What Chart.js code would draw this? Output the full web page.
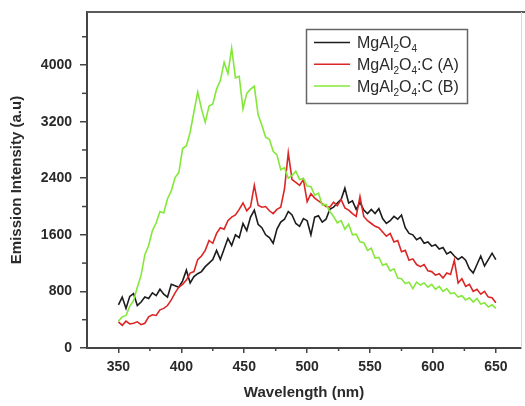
<!DOCTYPE html>
<html>
<head>
<meta charset="utf-8">
<title>Emission spectra</title>
<script src="https://cdn.jsdelivr.net/npm/chart.js@4.4.0/dist/chart.umd.min.js"></script>
<style>
  html, body { margin: 0; padding: 0; background: #fff; }
  #wrap { width: 525px; height: 406px; }
</style>
</head>
<body>
<div id="wrap"><canvas id="emission-chart" width="525" height="406"></canvas></div>
<script>
// Wavelength samples (nm), every 3 nm
const wavelengths = [
  350, 353, 356, 359, 362, 365, 368, 371, 374, 377,
  380, 383, 386, 389, 392, 395, 398, 401, 404, 407,
  410, 413, 416, 419, 422, 425, 428, 431, 434, 437,
  440, 443, 446, 449, 452, 455, 458, 461, 464, 467,
  470, 473, 476, 479, 482, 485, 488, 491, 494, 497,
  500, 503, 506, 509, 512, 515, 518, 521, 524, 527,
  530, 533, 536, 539, 542, 545, 548, 551, 554, 557,
  560, 563, 566, 569, 572, 575, 578, 581, 584, 587,
  590, 593, 596, 599, 602, 605, 608, 611, 614, 617,
  620, 623, 626, 629, 632, 635, 638, 641, 644, 647,
  650
];

// MgAl2O4 (black)
const mgal2o4 = [
  610, 720, 560, 730, 770, 600, 650, 720, 700, 780,
  740, 830, 760, 720, 900, 880, 860, 950, 1100, 920,
  1010, 1050, 1080, 1150, 1200, 1250, 1380, 1250, 1400, 1550,
  1450, 1600, 1560, 1760, 1660, 1850, 1950, 1750, 1700, 1600,
  1560, 1480, 1680, 1780, 1820, 1930, 1880, 1760, 1720, 1830,
  1800, 1600, 1850, 1870, 1780, 1820, 1960, 1990, 2050, 2100,
  2260, 2050, 2080, 1960, 2060, 1950, 1900, 1960, 1900, 1970,
  1830, 1760, 1800, 1860, 1820, 1880, 1700, 1620, 1600, 1530,
  1560, 1480, 1500, 1440, 1460, 1400, 1420, 1330, 1360, 1300,
  1250, 1290, 1240, 1120, 1060, 1180, 1300, 1160, 1250, 1340,
  1250
];

// MgAl2O4:C (A) (red)
const mgal2o4CA = [
  370, 320, 380, 340, 350, 370, 330, 350, 440, 470,
  460, 540, 560, 600, 680, 780, 860, 900, 960, 1060,
  1080, 1250, 1300, 1380, 1520, 1480, 1620, 1700, 1680, 1800,
  1850, 1880, 1960, 2050, 1940, 2000, 2300, 2020, 1990, 2000,
  1940, 1900, 1960, 1990, 2250, 2760, 2380, 2340, 2300, 2380,
  2070, 2180, 2120, 2080, 2040, 2000, 1990, 2060, 2010, 2100,
  1980, 1950, 1900, 1860, 2140, 1860, 1800, 1760, 1720, 1700,
  1640, 1580, 1620, 1500, 1520, 1360, 1380, 1240, 1260, 1180,
  1150, 1180, 1090, 1080, 1030, 1050, 990, 1060, 1040, 1240,
  920, 980, 870, 900, 800, 830, 760, 800, 720, 710,
  640
];

// MgAl2O4:C (B) (green)
const mgal2o4CB = [
  380, 440, 460, 590, 670, 860, 1030, 1320, 1450, 1660,
  1770, 1930, 1910, 2110, 2220, 2410, 2480, 2820, 2860, 3050,
  3340, 3620, 3380, 3190, 3420, 3450, 3660, 3780, 4040, 3880,
  4240, 3820, 3840, 3380, 3600, 3660, 3700, 3300, 3150, 2980,
  2950, 2780, 2730, 2520, 2550, 2400, 2440, 2500, 2380, 2400,
  2290, 2280, 2160, 2190, 2020, 2030, 1930, 1860, 1770, 1800,
  1680, 1750, 1600, 1610, 1500, 1490, 1380, 1410, 1270, 1280,
  1170, 1190, 1090, 1120, 990, 980, 910, 930, 840, 930,
  890, 920, 860, 900, 830, 870, 800, 840, 770, 780,
  720, 740, 680, 710, 650, 700, 620, 640, 580, 610,
  560
];

const xTicks = [350, 400, 450, 500, 550, 600, 650];
const xMinorTicks = [375, 425, 475, 525, 575, 625];
const yTicks = [0, 800, 1600, 2400, 3200, 4000];
const yMinorTicks = [400, 1200, 2000, 2800, 3600, 4400];

// Legend text pieces: [text, isSubscript]
const legendItems = [
  { color: "#1c1c1c", parts: [["MgAl", false], ["2", true], ["O", false], ["4", true]] },
  { color: "#dc2626", parts: [["MgAl", false], ["2", true], ["O", false], ["4", true], [":C (A)", false]] },
  { color: "#84e83a", parts: [["MgAl", false], ["2", true], ["O", false], ["4", true], [":C (B)", false]] }
];

const FONT = "'Liberation Sans', Arial, sans-serif";
const TEXT_COLOR = "#2a2a2a";
const AXIS_COLOR = "#444";

function toPoints(values) {
  return wavelengths.map((w, i) => ({ x: w, y: values[i] }));
}

// Minor ticks, top/right frame and the boxed legend
const framePlugin = {
  id: "frameAndLegend",
  afterDraw(chart) {
    const ctx = chart.ctx;
    const area = chart.chartArea;
    const xs = chart.scales.x;
    const ys = chart.scales.y;

    ctx.save();
    ctx.strokeStyle = AXIS_COLOR;
    ctx.lineWidth = 1.5;
    xMinorTicks.forEach(v => {
      const px = xs.getPixelForValue(v);
      ctx.beginPath();
      ctx.moveTo(px, area.bottom);
      ctx.lineTo(px, area.bottom + 3);
      ctx.stroke();
    });
    yMinorTicks.forEach(v => {
      const py = ys.getPixelForValue(v);
      ctx.beginPath();
      ctx.moveTo(area.left - 5, py);
      ctx.lineTo(area.left, py);
      ctx.stroke();
    });

    // top border
    ctx.strokeStyle = "#5a5a5a";
    ctx.lineWidth = 2;
    ctx.beginPath();
    ctx.moveTo(area.left, area.top);
    ctx.lineTo(chart.width, area.top);
    ctx.stroke();
    // faint right border
    ctx.strokeStyle = "#d8d8d8";
    ctx.lineWidth = 1;
    ctx.beginPath();
    ctx.moveTo(area.right + 0.5, area.top);
    ctx.lineTo(area.right + 0.5, area.bottom);
    ctx.stroke();

    // legend box
    ctx.strokeStyle = "#666";
    ctx.lineWidth = 1.5;
    ctx.strokeRect(306.5, 29.5, 161, 74);

    legendItems.forEach((item, i) => {
      const rowY = 42.5 + i * 21.8;
      ctx.strokeStyle = item.color;
      ctx.lineWidth = 1.5;
      ctx.beginPath();
      ctx.moveTo(314, rowY);
      ctx.lineTo(350, rowY);
      ctx.stroke();

      let tx = 357;
      const baseline = rowY + 5.5;
      ctx.fillStyle = TEXT_COLOR;
      ctx.textBaseline = "alphabetic";
      ctx.textAlign = "left";
      item.parts.forEach(([txt, sub]) => {
        ctx.font = sub ? "10px " + FONT : "16px " + FONT;
        ctx.fillText(txt, tx, sub ? baseline + 4 : baseline);
        tx += ctx.measureText(txt).width;
      });
    });
    ctx.restore();
  }
};

const tickFont = { family: FONT, size: 14, weight: "bold" };
const titleFont = { family: FONT, size: 15, weight: "bold" };

const chartConfig = {
  type: "line",
  data: {
    datasets: [
      {
        label: "MgAl₂O₄",
        data: toPoints(mgal2o4),
        borderColor: "#1c1c1c",
        borderWidth: 1.6,
        pointRadius: 0,
        tension: 0,
        order: 3
      },
      {
        label: "MgAl₂O₄:C (A)",
        data: toPoints(mgal2o4CA),
        borderColor: "#dc2626",
        borderWidth: 1.6,
        pointRadius: 0,
        tension: 0,
        order: 2
      },
      {
        label: "MgAl₂O₄:C (B)",
        data: toPoints(mgal2o4CB),
        borderColor: "#84e83a",
        borderWidth: 1.6,
        pointRadius: 0,
        tension: 0,
        order: 1
      }
    ]
  },
  options: {
    responsive: false,
    animation: false,
    devicePixelRatio: 1,
    layout: { padding: { top: 12, right: 4, left: 0, bottom: 0 } },
    plugins: {
      legend: { display: false },
      tooltip: { enabled: false }
    },
    scales: {
      x: {
        type: "linear",
        min: 325,
        max: 670,
        afterBuildTicks: scale => { scale.ticks = xTicks.map(v => ({ value: v })); },
        afterFit: scale => {
          scale.height = 58;
          scale.paddingLeft = 0;
          scale.paddingRight = 0;
        },
        grid: { drawOnChartArea: false, drawTicks: true, tickLength: 5, color: AXIS_COLOR, lineWidth: 1.5 },
        border: { color: AXIS_COLOR, width: 2 },
        ticks: {
          font: tickFont,
          color: TEXT_COLOR,
          padding: 6,
          maxRotation: 0,
          autoSkip: false,
          callback: value => String(value)
        },
        title: {
          display: true,
          text: "Wavelength (nm)",
          font: titleFont,
          color: TEXT_COLOR,
          padding: { top: 0, bottom: 4 }
        }
      },
      y: {
        type: "linear",
        min: 0,
        max: 4750,
        afterBuildTicks: scale => { scale.ticks = yTicks.map(v => ({ value: v })); },
        afterFit: scale => {
          scale.width = 87;
          scale.paddingTop = 0;
          scale.paddingBottom = 0;
        },
        grid: { drawOnChartArea: false, drawTicks: true, tickLength: 7, color: AXIS_COLOR, lineWidth: 1.5 },
        border: { color: AXIS_COLOR, width: 2 },
        ticks: {
          font: tickFont,
          color: TEXT_COLOR,
          padding: 8,
          autoSkip: false,
          callback: value => String(value)
        },
        title: {
          display: true,
          text: "Emission Intensity (a.u)",
          font: titleFont,
          color: TEXT_COLOR,
          padding: { top: 8, bottom: 0 }
        }
      }
    }
  },
  plugins: [framePlugin]
};

new Chart(document.getElementById("emission-chart").getContext("2d"), chartConfig);
</script>
</body>
</html>
